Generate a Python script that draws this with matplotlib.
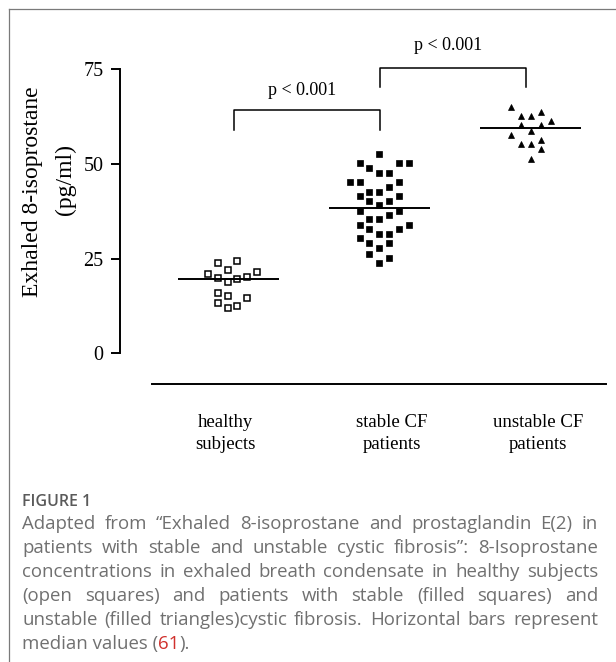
import numpy as np
import matplotlib
matplotlib.use('Agg')
import matplotlib.pyplot as plt
from matplotlib.lines import Line2D

# groups (x tick labels, two lines each)
group_labels = [('healthy', 'subjects'), ('stable CF', 'patients'), ('unstable CF', 'patients')]

# healthy subjects: column index inside the scatter, value (pg/ml)
healthy_col = [0.5, -1.5, -0.5, -2.5, -1.5, -0.5, 0.5, 1.5, 2.5, -1.5, -0.5, 1.5, -1.5, -0.5, 0.5]
healthy_val = [24.4, 23.8, 22.0, 20.9, 19.8, 18.9, 19.5, 20.2, 21.4, 16.0, 15.1, 14.5, 13.4, 11.9, 12.6]

# stable CF patients
stable_col = [0, -2, 2, 3, -1, 0, 1, -3, -2, 2, 1, -1, 0, -2, 2, -1, 1, 0,
              -2, 2, 1, -1, 0, -2, 3, -1, 2, 0, 1, -2, -1, 1, 0, -1, 1, 0]
stable_val = [52.6, 50.3, 50.3, 50.3, 48.9, 47.7, 47.7, 45.3, 45.3, 45.3, 44.0, 42.7, 42.7, 41.5, 41.5, 40.2, 40.2, 39.2,
              37.6, 37.6, 36.5, 35.4, 35.4, 33.9, 33.9, 32.7, 32.7, 31.4, 31.4, 30.4, 29.0, 29.0, 27.7, 26.2, 25.1, 23.9]

# unstable CF patients
unstable_col = [-2, -1, 0, 1, 2, -1, 1, 0, -2, 1, -1, 0, 1, 0]
unstable_val = [65.1, 62.7, 62.7, 63.8, 61.3, 60.3, 60.3, 58.7, 57.6, 56.3, 55.2, 55.2, 53.9, 51.3]

medians = [19.5, 38.3, 59.4]
yticks = [0, 25, 50, 75]
p_labels = ['p < 0.001', 'p < 0.001']
ylabel = ['Exhaled 8-isoprostane', '(pg/ml)']

caption_title = 'FIGURE 1'
caption_lines = [
    'Adapted from \u201cExhaled 8-isoprostane and prostaglandin E(2) in',
    'patients with stable and unstable cystic fibrosis\u201d: 8-Isoprostane',
    'concentrations in exhaled breath condensate in healthy subjects',
    '(open squares) and patients with stable (filled squares) and',
    'unstable (filled triangles)cystic fibrosis. Horizontal bars represent',
]
caption_last = ['median values (', '61', ').']

W, H = 616, 662
def fx(x):
    return x / W
def fy(y):
    return 1 - y / H

serif = 'Liberation Serif'
sans = 'Open Sans'
grey = '#707070'

fig = plt.figure(figsize=(W / 100, H / 100), dpi=100)
fig.patch.set_facecolor('white')

# pixel <-> data mapping of the plot
X0, XS = 234.0, 146.0      # px of group 0, px per group
Y0, YS = 353.3, 3.787      # px of value 0, px per unit
ax = fig.add_axes([fx(120), fy(384.3), (608 - 120) / W, (384.3 - 30) / H])
ax.set_xlim((120 - X0) / XS, (608 - X0) / XS)
ax.set_ylim(-(384.3 - Y0) / YS, (Y0 - 30) / YS)
ax.patch.set_alpha(0)

for s in ['top', 'right']:
    ax.spines[s].set_visible(False)
ax.spines['left'].set_bounds(0, 75)
ax.spines['left'].set_linewidth(1.4)
ax.spines['bottom'].set_bounds((151.7 - X0) / XS, (606 - X0) / XS)
ax.spines['bottom'].set_linewidth(1.4)
ax.set_xticks([])
ax.set_yticks(yticks)
ax.tick_params(axis='y', length=6.7, width=1.4, pad=5, labelsize=14.5)
for lab in ax.get_yticklabels():
    lab.set_family(serif)

step = 9.8 / XS
centers = [-0.0103, 0.995, 2.034]
ax.plot(centers[0] + np.array(healthy_col) * step, healthy_val, 's', ms=4.4,
        mfc='white', mec='black', mew=1.1, ls='none', clip_on=False)
ax.plot(centers[1] + np.array(stable_col) * step, stable_val, 's', ms=4.8,
        mfc='black', mec='black', mew=0.5, ls='none', clip_on=False)
ax.plot(centers[2] + np.array(unstable_col) * step, unstable_val, '^', ms=4.8,
        mfc='black', mec='black', mew=0.5, ls='none', clip_on=False)

# median bars
med_x = [-0.041, 0.998, 2.034]
half = 50.5 / XS
for cx, m in zip(med_x, medians):
    ax.plot([cx - half, cx + half], [m, m], color='black', lw=1.4, solid_capstyle='butt')

# significance brackets
brackets = [(0, 1, 64.2, 58.9, 68.2), (1, 2, 75.3, 70.2, 80.1)]
for (a, b, top, bot, ty), lab in zip(brackets, p_labels):
    ax.plot([a, a, b, b], [bot, top, top, bot], color='black', lw=1.1, clip_on=False)
    ax.text((a + b) / 2 - 0.035, ty, lab, ha='center', va='baseline',
            fontsize=13, family=serif, clip_on=False)

# x labels
label_x = [-0.062, 1.08, 2.08]
for lx, (l1, l2) in zip(label_x, group_labels):
    ax.text(lx, -(427.3 - Y0) / YS, l1, ha='center', va='baseline', fontsize=13.5, family=serif)
    ax.text(lx, -(449.3 - Y0) / YS, l2, ha='center', va='baseline', fontsize=13.5, family=serif)

# y label (two lines)
fig.text(fx(33), fy(192), ylabel[0], rotation=90, ha='center', va='center', fontsize=17, family=serif)
fig.text(fx(65), fy(180), ylabel[1], rotation=90, ha='center', va='center', fontsize=17, family=serif)

# frame
fig.add_artist(Line2D([fx(8.5), 1.0], [fy(8.5), fy(8.5)], color='#7a7a7a', lw=0.9))
fig.add_artist(Line2D([fx(8.5), fx(8.5)], [fy(8.5), 0.0], color='#7a7a7a', lw=0.9))

# caption, justified
r = fig.canvas.get_renderer()
fig.text(fx(22), fy(506), caption_title, fontsize=11.5, family=sans, weight='semibold',
         color='#5a5a5a', va='baseline')

cap_size = 13.4
left, right = 22.0, 598.0
base0, lead = 529.0, 24.0
for i, line in enumerate(caption_lines):
    words = line.split(' ')
    texts = [fig.text(0, fy(base0 + i * lead), w, fontsize=cap_size, family=sans,
                      color=grey, va='baseline') for w in words]
    widths = [t.get_window_extent(r).width for t in texts]
    gap = (right - left - sum(widths)) / (len(words) - 1)
    x = left
    for t, w in zip(texts, widths):
        t.set_x(fx(x))
        x += w + gap

y_last = base0 + len(caption_lines) * lead
x = left
for part, col in zip(caption_last, [grey, '#d0312d', grey]):
    t = fig.text(fx(x), fy(y_last), part, fontsize=cap_size, family=sans, color=col, va='baseline')
    x += t.get_window_extent(r).width

fig.savefig('out.png', dpi=100)
